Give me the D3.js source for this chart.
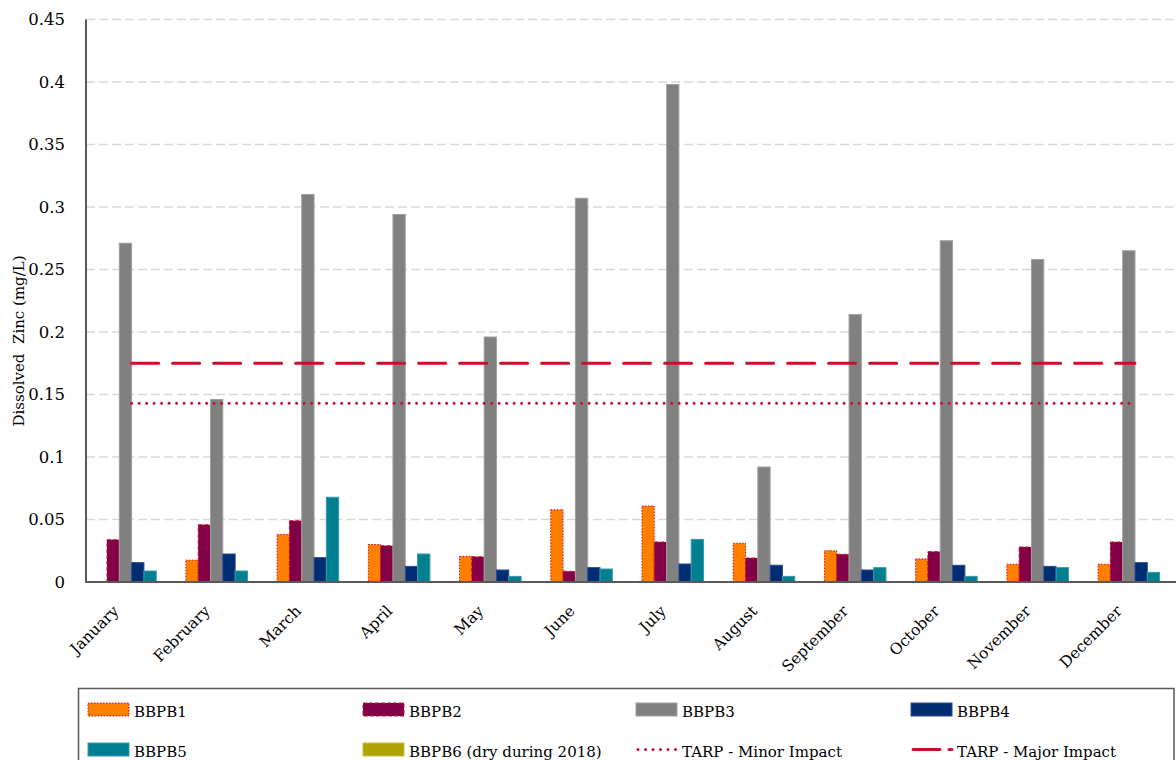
<!DOCTYPE html>
<html>
<head>
<meta charset="utf-8">
<script src="https://cdn.jsdelivr.net/npm/d3@7"></script>
<style>
  html, body { margin: 0; padding: 0; background: #fff; overflow: hidden; }
  svg { display: block; }
</style>
</head>
<body>
<svg id="chart" width="1176" height="760"></svg>
<script>
const months = ["January","February","March","April","May","June","July","August","September","October","November","December"];
const seriesNames = ["BBPB1","BBPB2","BBPB3","BBPB4","BBPB5","BBPB6 (dry during 2018)"];
const bbpb1 = [null, 0.0175, 0.038, 0.030, 0.0205, 0.0578, 0.0608, 0.031, 0.025, 0.0185, 0.0142, 0.0142];
const bbpb2 = [0.0338, 0.0458, 0.049, 0.029, 0.0202, 0.0086, 0.032, 0.0192, 0.0222, 0.0243, 0.028, 0.032];
const bbpb3 = [0.271, 0.146, 0.310, 0.294, 0.196, 0.307, 0.398, 0.092, 0.214, 0.273, 0.258, 0.265];
const bbpb4 = [0.0155, 0.0224, 0.0195, 0.0125, 0.0096, 0.0115, 0.0144, 0.0134, 0.0096, 0.0134, 0.0125, 0.0155];
const bbpb5 = [0.0088, 0.0088, 0.0678, 0.0224, 0.0045, 0.0104, 0.0341, 0.0045, 0.0115, 0.0045, 0.0115, 0.0077];
const bbpb6 = [null, null, null, null, null, null, null, null, null, null, null, null];
const tarpMinor = [0.143, 0.143, 0.143, 0.143, 0.143, 0.143, 0.143, 0.143, 0.143, 0.143, 0.143, 0.143];
const tarpMajor = [0.175, 0.175, 0.175, 0.175, 0.175, 0.175, 0.175, 0.175, 0.175, 0.175, 0.175, 0.175];
const yTicks = [0, 0.05, 0.1, 0.15, 0.2, 0.25, 0.3, 0.35, 0.4, 0.45];
const yTickLabels = ["0","0.05","0.1","0.15","0.2","0.25","0.3","0.35","0.4","0.45"];
const yTitle = "Dissolved  Zinc (mg/L)";
const lineNames = ["TARP - Minor Impact","TARP - Major Impact"];

const barSeries = [bbpb1, bbpb2, bbpb3, bbpb4, bbpb5, bbpb6];
const fills = ["#FF8000", "#820046", "#808080", "#002D72", "#007F91", "#ADA400"];
const strokes = ["#D0102A", "#C8102E", "#A0A0A0", "#2A4A90", "#3A9AAA", "#C8C040"];
const strokeDash = ["1.5 1.5", "4 2", null, null, null, null];
const tarpColor = "#C8102E";
const FONT = "DejaVu Serif";

const svg = d3.select("#chart");
const pLeft = 86, pRight = 1180.6, pTop = 19.5, pBottom = 582;

const x = d3.scaleBand().domain(months).range([pLeft, pRight]).paddingInner(0).paddingOuter(0);
const y = d3.scaleLinear().domain([0, 0.45]).range([pBottom, pTop]);
const gapFrac = 0.19;
const xs = d3.scaleBand().domain(d3.range(6)).range([0, x.bandwidth() * (1 - gapFrac)]);
const groupOffset = x.bandwidth() * gapFrac / 2;

// gridlines
svg.append("g").selectAll("line").data(yTicks.slice(1)).join("line")
  .attr("x1", pLeft).attr("x2", 1176)
  .attr("y1", d => y(d)).attr("y2", d => y(d))
  .attr("stroke", "#d9d9d9").attr("stroke-width", 1.3).attr("stroke-dasharray", "9 4");

// y axis labels
const yAxis = d3.axisLeft(y).tickValues(yTicks).tickFormat((d, i) => yTickLabels[i]).tickSize(0).tickPadding(21);
const yg = svg.append("g").attr("transform", `translate(${pLeft},0)`).call(yAxis)
  .attr("font-family", FONT).attr("font-size", 16.5);
yg.select(".domain").remove();
yg.selectAll("text").attr("fill", "#000");

// bars
barSeries.forEach((vals, si) => {
  svg.append("g").selectAll("rect").data(vals.map((v, i) => ({v, m: months[i]})).filter(d => d.v != null)).join("rect")
    .attr("x", d => x(d.m) + groupOffset + xs(si))
    .attr("width", xs.bandwidth())
    .attr("y", d => y(d.v))
    .attr("height", d => y(0) - y(d.v))
    .attr("fill", fills[si])
    .attr("stroke", strokes[si])
    .attr("stroke-width", 1)
    .attr("stroke-dasharray", strokeDash[si]);
});

// TARP lines
const line = d3.line().x((d, i) => x(months[i]) + x.bandwidth() / 2).y(d => y(d));
svg.append("path").datum(tarpMinor).attr("d", line).attr("fill", "none")
  .attr("stroke", tarpColor).attr("stroke-width", 3).attr("stroke-linecap", "round").attr("stroke-dasharray", "0 7.5");
svg.append("path").datum(tarpMajor).attr("d", line).attr("fill", "none")
  .attr("stroke", tarpColor).attr("stroke-width", 3).attr("stroke-linecap", "round").attr("stroke-dasharray", "27 14");

// axes lines
svg.append("line").attr("x1", pLeft).attr("x2", pLeft).attr("y1", pTop).attr("y2", pBottom)
  .attr("stroke", "#595959").attr("stroke-width", 2);
svg.append("line").attr("x1", pLeft - 1).attr("x2", 1176).attr("y1", pBottom).attr("y2", pBottom)
  .attr("stroke", "#595959").attr("stroke-width", 2);

// x labels
svg.append("g").selectAll("text").data(months).join("text")
  .attr("transform", d => `translate(${x(d) + x.bandwidth() / 2 - 12},${pBottom + 30}) rotate(-45)`)
  .attr("text-anchor", "end")
  .attr("font-family", FONT)
  .attr("font-size", 15.5).attr("fill", "#000")
  .text(d => d);

// y title
svg.append("text")
  .attr("transform", `translate(24,341) rotate(-90)`)
  .attr("text-anchor", "middle").attr("font-size", 15).attr("fill", "#000")
  .attr("font-family", FONT)
  .attr("xml:space", "preserve").style("white-space", "pre")
  .text(yTitle);

// legend
const lg = svg.append("g");
lg.append("rect").attr("x", 78.5).attr("y", 688.5).attr("width", 1095.5).attr("height", 90)
  .attr("fill", "#fff").attr("stroke", "#595959").attr("stroke-width", 1.5);
const legendItems = seriesNames.map((n, i) => ({name: n, type: "bar", i}))
  .concat(lineNames.map((n, i) => ({name: n, type: "line", i})));
const colX = [88, 363, 636, 911];
const rowY = [703, 743];
legendItems.forEach((it, k) => {
  const cx = colX[k % 4], cy = rowY[Math.floor(k / 4)];
  if (it.type === "bar") {
    lg.append("rect").attr("x", cx).attr("y", cy).attr("width", 41).attr("height", 13)
      .attr("fill", fills[it.i]).attr("stroke", strokes[it.i]).attr("stroke-width", 1)
      .attr("stroke-dasharray", strokeDash[it.i]);
  } else {
    lg.append("line").attr("x1", cx + 2).attr("x2", cx + 41).attr("y1", cy + 6.5).attr("y2", cy + 6.5)
      .attr("stroke", tarpColor).attr("stroke-width", 3).attr("stroke-linecap", "round")
      .attr("stroke-dasharray", it.i === 0 ? "0 7.5" : "27 9");
  }
  lg.append("text").attr("x", cx + 46).attr("y", cy + 13.5).attr("font-family", FONT)
    .attr("font-size", 15).attr("fill", "#000").text(it.name);
});
</script>
</body>
</html>
